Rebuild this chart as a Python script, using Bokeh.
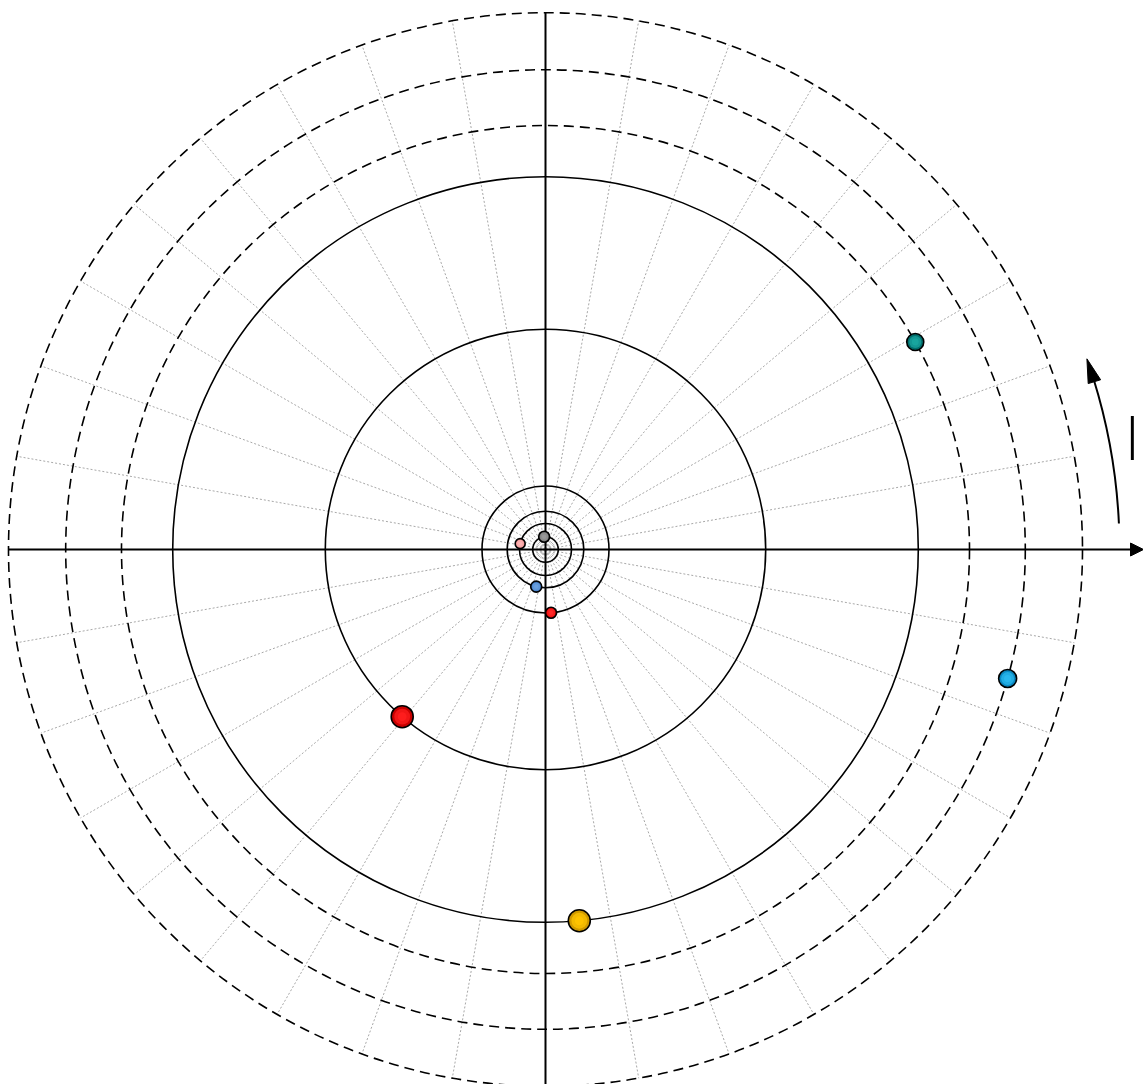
import numpy as np
from bokeh.plotting import figure
from bokeh.models import Range1d, Arrow, NormalHead
from bokeh.core.properties import value
from bokeh.embed import file_html
from bokeh.resources import INLINE

# ---- data ----
planet_names = ["Mercury", "Venus", "Earth", "Mars", "Jupiter", "Saturn", "Uranus", "Neptune"]
orbit_radius = [12.8, 26.0, 38.3, 63.5, 220.2, 372.8, 424.0, 479.8]
planet_angle_deg = [96.0, 167.0, 256.0, 275.0, 229.4, 275.2, 29.3, 344.4]
planet_size = [11, 10, 11, 11, 22, 22, 17, 18]
planet_edge = ["#6e6e6e", "#e98a8a", "#3f78c0", "#e00000", "#c80000", "#d09a00", "#006e6c", "#0a88c0"]
planet_core = ["#9a9a9a", "#ffb4b4", "#6aa0e0", "#ff2a2a", "#ff1e1e", "#ffc400", "#1aa6a0", "#2ab8ee"]
solid_orbits = [12.8, 26.0, 38.3, 63.5, 220.2, 372.8]
dashed_orbits = [424.0, 479.8, 537.0]
spoke_angles_deg = list(range(0, 360, 10))
spoke_length = 537.0
label_text = "l"

# ---- figure ----
W, H = 1143, 1084
p = figure(width=W, height=H, output_backend="svg", toolbar_location=None,
           x_range=Range1d(-545, 598), y_range=Range1d(-535, 549),
           min_border=0, min_border_left=0, min_border_right=0,
           min_border_top=0, min_border_bottom=0)
p.axis.visible = False
p.grid.visible = False
p.outline_line_color = None
p.background_fill_color = "white"
p.border_fill_color = "white"

# spokes
p.ray(x=0, y=0, length=spoke_length, length_units="data",
      angle=np.deg2rad(spoke_angles_deg), line_color="#a8a8a8",
      line_width=1, line_dash="2 2")

# orbits
p.circle(x=[0] * len(solid_orbits), y=[0] * len(solid_orbits), radius=solid_orbits,
         fill_color=None, line_color="black", line_width=1.6)
p.circle(x=[0] * len(dashed_orbits), y=[0] * len(dashed_orbits), radius=dashed_orbits,
         fill_color=None, line_color="black", line_width=1.6, line_dash="10 6")

# axes
p.segment(x0=[0], y0=[-535], x1=[0], y1=[537], line_color="black", line_width=2)
p.add_layout(Arrow(end=NormalHead(size=13, fill_color="black", line_color="black"),
                   x_start=-537, y_start=0, x_end=598, y_end=0,
                   line_color="black", line_width=2))

# curved arrow
arc_r = 574.0
a0, a1, atip = np.deg2rad(2.6), np.deg2rad(17.0), np.deg2rad(19.4)
p.arc(x=0, y=0, radius=arc_r, start_angle=a0, end_angle=a1 + 0.005,
      line_color="black", line_width=2)
bx, by = arc_r * np.cos(a1), arc_r * np.sin(a1)
tx, ty = arc_r * np.cos(atip), arc_r * np.sin(atip)
nx, ny = np.cos(a1), np.sin(a1)
hw = 6.5
p.patch(x=[tx, bx + hw * nx, bx - hw * nx], y=[ty, by + hw * ny, by - hw * ny],
        fill_color="black", line_color="black", line_width=1)

# label
p.text(x=[1125 - 545], y=[549 - 472], text=[label_text],
       text_font=value("'Lato Light', 'Open Sans Light', 'DejaVu Sans ExtraLight', Lato"),
       text_font_size="62px", text_baseline="bottom", text_align="left",
       text_color="black", text_font_style="normal")

# planets
ang = np.deg2rad(planet_angle_deg)
px_ = np.array(orbit_radius) * np.cos(ang)
py_ = np.array(orbit_radius) * np.sin(ang)
p.scatter(px_, py_, size=planet_size, marker="circle", fill_color=planet_edge,
          line_color="black", line_width=1.6)
p.scatter(px_, py_, size=[s * 0.72 for s in planet_size], marker="circle",
          fill_color=planet_core, fill_alpha=0.75, line_color=None)
p.scatter(px_, py_, size=[s * 0.4 for s in planet_size], marker="circle",
          fill_color=planet_core, fill_alpha=0.9, line_color=None)

open("out.html", "w").write(file_html(p, INLINE))
